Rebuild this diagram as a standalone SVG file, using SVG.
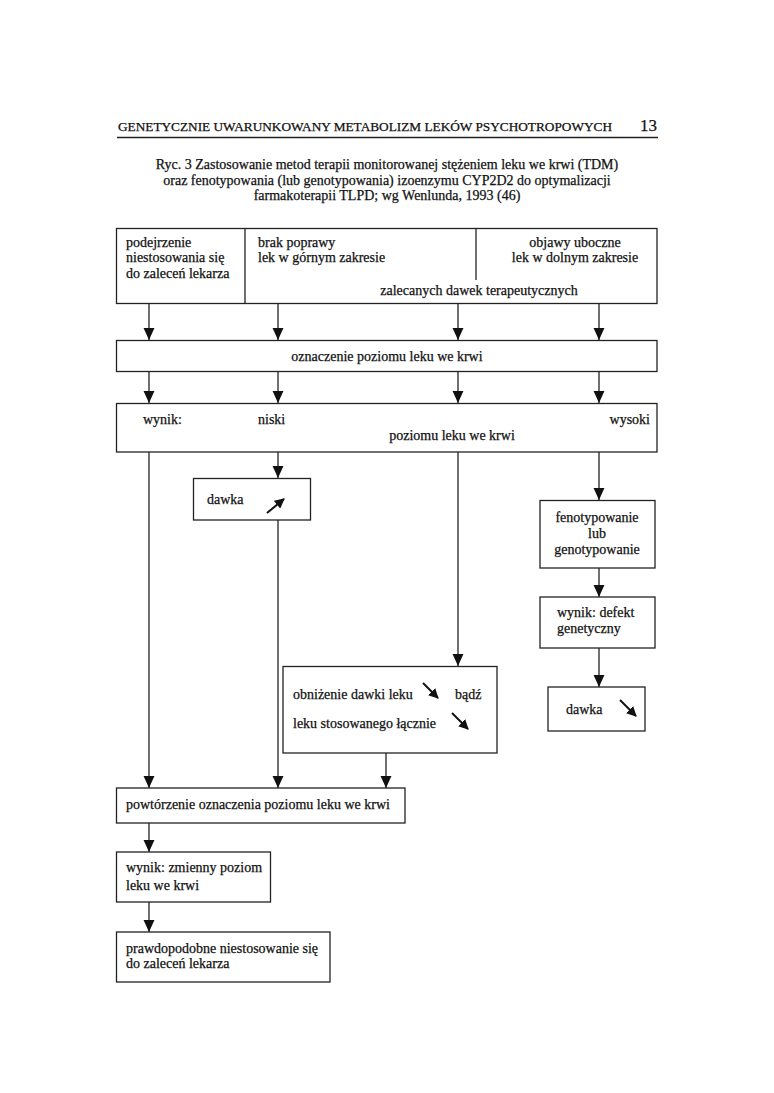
<svg xmlns="http://www.w3.org/2000/svg" width="774" height="1093" viewBox="0 0 774 1093">
<defs>
<marker id="ah" markerUnits="userSpaceOnUse" markerWidth="12" markerHeight="12" refX="11" refY="5" orient="auto" viewBox="0 0 11 10">
<path d="M0,0 L11,5 L0,10 Z" fill="#111"/>
</marker>
<marker id="sh" markerUnits="userSpaceOnUse" markerWidth="10" markerHeight="10" refX="9" refY="5" orient="auto" viewBox="0 0 10 10">
<path d="M0,0 L10,5 L0,10 Z" fill="#111"/>
</marker>
<style>
text{font-family:"Liberation Serif","Times New Roman",serif;fill:#111;font-size:14px;stroke:#111;stroke-width:0.25}
.box{fill:#fff;stroke:#222;stroke-width:1.3}
.ln{stroke:#222;stroke-width:1.3;fill:none}
.c{text-anchor:middle}
.e{text-anchor:end}
.hd{font-size:12.5px}
.cap{font-size:14px}
.sym{stroke:#111;stroke-width:2;fill:none}
</style>
</defs>
<rect width="774" height="1093" fill="#fff"/>

<g id="header">
<text x="118" y="131" class="hd" textLength="494" lengthAdjust="spacingAndGlyphs">GENETYCZNIE UWARUNKOWANY METABOLIZM LEKÓW PSYCHOTROPOWYCH</text>
<text x="657" y="131" class="e" style="font-size:17px">13</text>
<line x1="117" y1="137.5" x2="658" y2="137.5" stroke="#222" stroke-width="1.5"/>
</g>

<g id="caption">
<text x="387" y="169" class="c cap">Ryc. 3 Zastosowanie metod terapii monitorowanej stężeniem leku we krwi (TDM)</text>
<text x="387" y="185" class="c cap">oraz fenotypowania (lub genotypowania) izoenzymu CYP2D2 do optymalizacji</text>
<text x="387" y="200" class="c cap">farmakoterapii TLPD; wg Wenlunda, 1993 (46)</text>
</g>

<g id="connectors">
<line class="ln" x1="149" y1="304" x2="149" y2="340" marker-end="url(#ah)"/>
<line class="ln" x1="278" y1="304" x2="278" y2="340" marker-end="url(#ah)"/>
<line class="ln" x1="458" y1="304" x2="458" y2="340" marker-end="url(#ah)"/>
<line class="ln" x1="599" y1="304" x2="599" y2="340" marker-end="url(#ah)"/>
<line class="ln" x1="149" y1="372" x2="149" y2="403" marker-end="url(#ah)"/>
<line class="ln" x1="278" y1="372" x2="278" y2="403" marker-end="url(#ah)"/>
<line class="ln" x1="458" y1="372" x2="458" y2="403" marker-end="url(#ah)"/>
<line class="ln" x1="599" y1="372" x2="599" y2="403" marker-end="url(#ah)"/>
<line class="ln" x1="149" y1="452" x2="149" y2="788" marker-end="url(#ah)"/>
<line class="ln" x1="278" y1="452" x2="278" y2="478" marker-end="url(#ah)"/>
<line class="ln" x1="278" y1="520" x2="278" y2="788" marker-end="url(#ah)"/>
<line class="ln" x1="458" y1="452" x2="458" y2="666" marker-end="url(#ah)"/>
<line class="ln" x1="386" y1="753" x2="386" y2="788" marker-end="url(#ah)"/>
<line class="ln" x1="599" y1="452" x2="599" y2="500" marker-end="url(#ah)"/>
<line class="ln" x1="599" y1="568" x2="599" y2="597" marker-end="url(#ah)"/>
<line class="ln" x1="599" y1="648" x2="599" y2="687" marker-end="url(#ah)"/>
<line class="ln" x1="149" y1="823" x2="149" y2="852" marker-end="url(#ah)"/>
<line class="ln" x1="149" y1="902" x2="149" y2="932" marker-end="url(#ah)"/>
</g>

<g id="n-top">
<rect class="box" x="116.5" y="228.5" width="540.5" height="75"/>
<line class="ln" x1="245" y1="228.5" x2="245" y2="303.5"/>
<line class="ln" x1="476" y1="228.5" x2="476" y2="280"/>
<text x="126" y="247">podejrzenie</text>
<text x="126" y="262">niestosowania się</text>
<text x="126" y="278">do zaleceń lekarza</text>
<text x="258" y="247">brak poprawy</text>
<text x="258" y="262">lek w górnym zakresie</text>
<text x="575" y="247" class="c">objawy uboczne</text>
<text x="575" y="262" class="c">lek w dolnym zakresie</text>
<text x="479" y="295" class="c">zalecanych dawek terapeutycznych</text>
</g>

<g id="n-oznaczenie">
<rect class="box" x="116.5" y="340.5" width="540.5" height="31"/>
<text x="387" y="361" class="c">oznaczenie poziomu leku we krwi</text>
</g>

<g id="n-wynik">
<rect class="box" x="116.5" y="403.5" width="540.5" height="48.5"/>
<text x="143" y="424">wynik:</text>
<text x="258" y="424">niski</text>
<text x="650" y="424" class="e">wysoki</text>
<text x="452" y="440" class="c">poziomu leku we krwi</text>
</g>

<g id="n-dawka-up">
<rect class="box" x="193.5" y="478.5" width="117" height="41.5"/>
<text x="207" y="504">dawka</text>
<line class="sym" x1="267" y1="513" x2="284" y2="499" marker-end="url(#sh)"/>
</g>

<g id="n-obnizenie">
<rect class="box" x="283" y="666.5" width="214" height="86.5"/>
<text x="293" y="699">obniżenie dawki leku</text>
<line class="sym" x1="423" y1="683" x2="438" y2="698" marker-end="url(#sh)"/>
<text x="455" y="699">bądź</text>
<text x="293" y="728">leku stosowanego łącznie</text>
<line class="sym" x1="452" y1="713" x2="468" y2="729" marker-end="url(#sh)"/>
</g>

<g id="n-fenotyp">
<rect class="box" x="540" y="500.5" width="115" height="67.5"/>
<text x="597" y="522" class="c">fenotypowanie</text>
<text x="597" y="538" class="c">lub</text>
<text x="597" y="554" class="c">genotypowanie</text>
</g>

<g id="n-defekt">
<rect class="box" x="540" y="597" width="115" height="51"/>
<text x="557" y="617">wynik: defekt</text>
<text x="557" y="633">genetyczny</text>
</g>

<g id="n-dawka-down">
<rect class="box" x="548" y="687" width="97" height="44"/>
<text x="566" y="714">dawka</text>
<line class="sym" x1="620" y1="700" x2="636" y2="716" marker-end="url(#sh)"/>
</g>

<g id="n-powtorzenie">
<rect class="box" x="116.5" y="788" width="288.5" height="35"/>
<text x="126" y="809">powtórzenie oznaczenia poziomu leku we krwi</text>
</g>

<g id="n-zmienny">
<rect class="box" x="116.5" y="852" width="154" height="50"/>
<text x="126" y="872">wynik: zmienny poziom</text>
<text x="126" y="890">leku we krwi</text>
</g>

<g id="n-prawdopodobne">
<rect class="box" x="116.5" y="932" width="213.5" height="50"/>
<text x="126" y="953">prawdopodobne niestosowanie się</text>
<text x="126" y="968"> do zaleceń lekarza</text>
</g>
</svg>
